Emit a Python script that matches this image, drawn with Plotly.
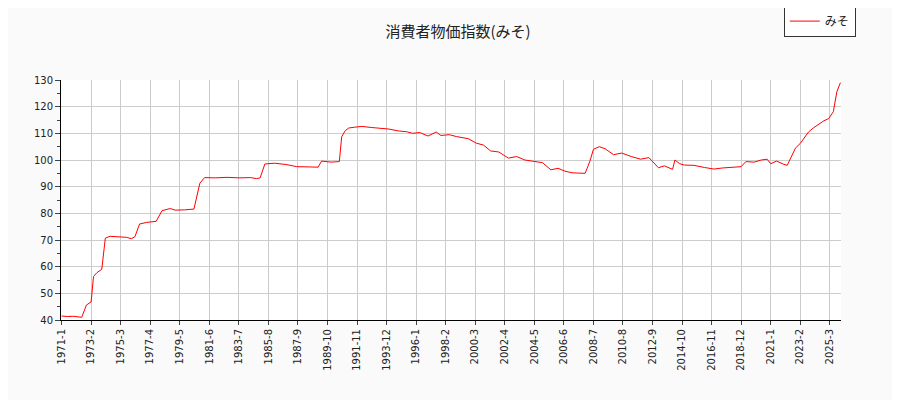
import plotly.graph_objects as go

start_year, start_month, n_months = 1971, 1, 660
months = [f"{1971 + i // 12}-{i % 12 + 1}" for i in range(n_months)]

# month index (from 1971-1) and value
idx = [0, 5, 10, 17, 21, 25, 27, 30, 34, 37, 41, 49, 55, 59, 62, 66, 72, 80, 85, 92, 96, 104, 112,
       117, 121, 130, 140, 150, 160, 165, 168, 172, 180, 190, 199, 210, 217, 220, 228, 235, 237, 240,
       243, 248, 254, 262, 270, 277, 285, 292, 297, 303, 310, 317, 321, 328, 334, 338, 344, 351, 357,
       363, 370, 378, 385, 392, 400, 407, 414, 420, 426, 432, 437, 443, 447, 450, 455, 460, 467, 474,
       482, 490, 497, 505, 510, 517, 519, 523, 527, 535, 544, 552, 559, 566, 575, 579, 586, 592, 597,
       600, 605, 611, 614, 617, 621, 625, 628, 632, 636, 641, 645, 649, 653, 656, 659]
vals = [41.5, 41.3, 41.4, 41.0, 45.6, 46.8, 56.3, 57.8, 59.0, 70.7, 71.4, 71.2, 71.0, 70.5, 71.2, 76.0,
        76.6, 77.0, 81.0, 81.8, 81.2, 81.3, 81.6, 91.3, 93.4, 93.3, 93.5, 93.3, 93.4, 93.0, 93.3,
        98.5, 98.8, 98.3, 97.5, 97.4, 97.3, 99.6, 99.2, 99.4, 108.7, 111.0, 112.0, 112.3, 112.6,
        112.2, 112.0, 111.6, 110.9, 110.6, 110.0, 110.3, 109.0, 110.5, 109.2, 109.5, 108.8, 108.5,
        108.0, 106.3, 105.6, 103.4, 103.0, 100.7, 101.3, 100.0, 99.4, 99.0, 96.3, 96.9, 95.8, 95.2,
        95.1, 95.0, 99.5, 104.0, 105.0, 104.2, 102.0, 102.6, 101.3, 100.3, 100.9, 97.1, 97.8, 96.5,
        100.0, 98.6, 98.1, 98.0, 97.2, 96.6, 97.0, 97.1, 97.5, 99.4, 99.2, 100.0, 100.3, 98.6, 99.6,
        98.4, 98.0, 100.8, 104.5, 106.2, 107.9, 110.5, 112.0, 113.6, 114.7, 115.5, 118.1, 125.6, 129.0]

x = [months[i] for i in idx]

fig = go.Figure(go.Scatter(x=x, y=vals, mode="lines", name="みそ",
                           line=dict(color="red", width=1), showlegend=True))

fig.update_layout(
    width=900, height=400,
    paper_bgcolor="#fafafa", plot_bgcolor="white",
    font=dict(family="Noto Sans CJK JP", size=11, color="#222"),
    title=dict(text="消費者物価指数(みそ)", x=0.5, y=0.955, xanchor="center", font=dict(size=15)),
    margin=dict(l=53, r=67, t=72, b=88, autoexpand=False),
    showlegend=True,
    legend=dict(x=1.019, y=1.31, xanchor="right", yanchor="top", bgcolor="white",
                bordercolor="#333", borderwidth=1, font=dict(size=12),
                tracegroupgap=0, itemwidth=30),
)
fig.update_xaxes(type="category", categoryorder="array", categoryarray=months,
                 range=[-0.5, n_months - 0.5],
                 tickmode="array", tickvals=months[::25], ticktext=months[::25], tickangle=-90,
                 showgrid=True, gridcolor="#cccccc", ticks="outside", ticklen=4,
                 showline=True, linecolor="black", tickfont=dict(family="DejaVu Sans", size=10))
fig.update_yaxes(range=[40, 130], dtick=10, showgrid=True, gridcolor="#cccccc",
                 ticks="outside", ticklen=5, showline=True, linecolor="black",
                 minor=dict(dtick=5, ticks="outside", ticklen=3),
                 tickfont=dict(family="DejaVu Sans", size=10))

fig.write_html("out.html")
